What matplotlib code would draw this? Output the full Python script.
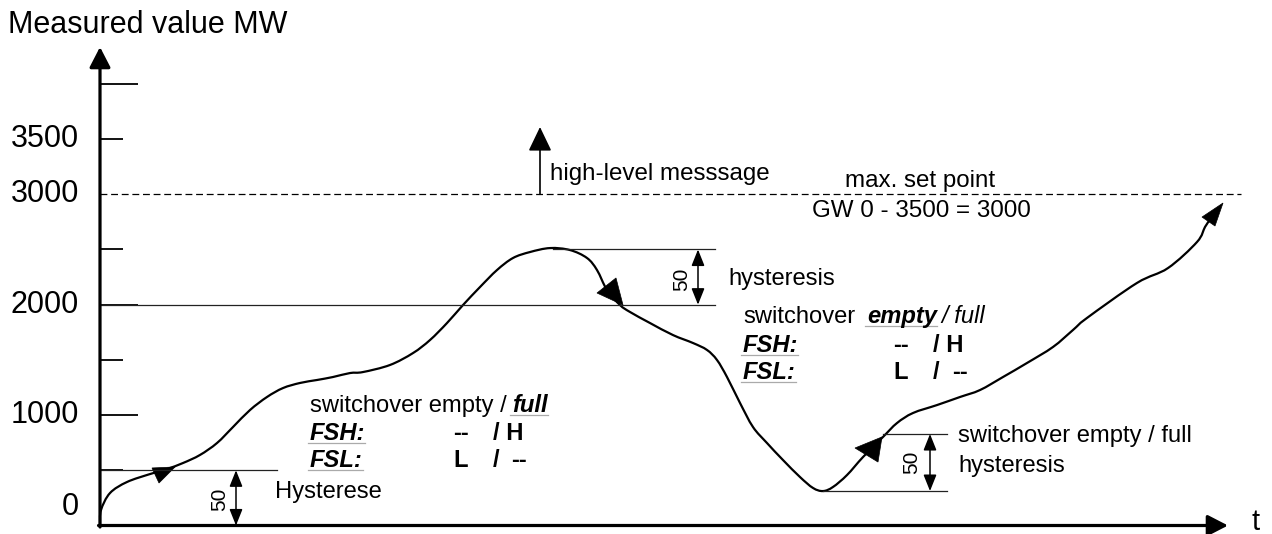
import matplotlib
matplotlib.use('Agg')
import matplotlib.pyplot as plt
from matplotlib.path import Path
from matplotlib.patches import PathPatch
import numpy as np

plt.rcParams['font.family'] = ['Liberation Sans', 'DejaVu Sans']

# ---------------- data ----------------
time = [0, 1, 10, 27, 50, 67, 83, 100, 117, 133, 150, 167, 183, 200, 217, 233, 250,
        263, 290, 313, 330, 347, 363, 380, 397, 413, 430, 450, 470, 487, 497, 507,
        520, 530, 550, 573, 593, 607, 617, 627, 640, 653, 667, 683, 700, 713, 723,
        733, 747, 763, 783, 797, 813, 837, 860, 880, 903, 927, 953, 973, 987, 1037,
        1068, 1097, 1105, 1110]
measured = [14, 140, 294, 394, 466, 512, 566, 639, 747, 892, 1046, 1164, 1245, 1291,
            1318, 1345, 1381, 1390, 1454, 1562, 1680, 1834, 1997, 2160, 2314, 2423,
            2477, 2513, 2495, 2423, 2314, 2133, 1997, 1934, 1834, 1725, 1653, 1590,
            1499, 1345, 1110, 892, 747, 593, 439, 340, 312, 349, 457, 620, 802, 928,
            1019, 1091, 1164, 1227, 1345, 1472, 1617, 1771, 1880, 2197, 2332, 2568,
            2704, 2770]

y_label_values = [0, 1000, 2000, 3000, 3500]
y_label_texts = ['0', '1000', '2000', '3000', '3500']
tick_values = [500, 1000, 1500, 2000, 2500, 3500, 4000]

max_set_point = 3000
switch_level = 2000
switch_top = 2500
low_level = 500
low_min = 312
low_top = 829

# arrowheads along the curve (time, value) triangles
head_start = ([52, 75, 59], [521, 530, 385])
head_fall = ([497, 516, 523], [2106, 2242, 1997])
head_rise = ([755, 782, 778], [702, 802, 575])
head_end = ([1102, 1123, 1115], [2794, 2921, 2713])

# ---------------- layout ----------------
UNIT = 3000 / 331.2           # value units per pixel (vertical)


def v(py):                    # pixel row -> value
    return (525.5 - py) * UNIT


def h(px):                    # pixel column -> time
    return px - 100


fig = plt.figure(figsize=(12.72, 5.34), dpi=100)
ax = fig.add_axes([0, 0, 1, 1])
ax.set_xlim(-100, 1172)
ax.set_ylim(v(534), v(0))
ax.axis('off')

BODY = 17.1
BIG = 22

# axes with arrows
axis_arrow = dict(arrowstyle='-|>,head_length=0.62,head_width=0.32', mutation_scale=20,
                  lw=2.3, color='black', shrinkA=0, shrinkB=0)
ax.annotate('', xy=(0, v(47)), xytext=(0, v(527)), arrowprops=axis_arrow)
ax.annotate('', xy=(h(1228), 0), xytext=(-1.5, 0), arrowprops=axis_arrow)

# ticks
for tv in tick_values:
    ln = 38 if tv % 1000 == 0 else 23
    ax.plot([0, ln], [tv, tv], color='black', lw=1.3, solid_capstyle='butt')

# tick labels
for val, txt in zip(y_label_values, y_label_texts):
    yy = v(507) if val == 0 else val
    ax.text(h(79), yy, txt, fontsize=BIG, ha='right', va='center')

ax.text(h(8), v(25), 'Measured value MW', fontsize=BIG, ha='left', va='center')
ax.text(h(1252), v(530), 't', fontsize=BIG - 1, ha='left', va='baseline')

# reference lines
thin = dict(color='#222222', lw=0.9)
ax.plot([0, h(1241)], [max_set_point, max_set_point], color='black', lw=0.9,
        linestyle=(0, (5.5, 3)))
ax.plot([0, h(715)], [switch_level, switch_level], **thin)
ax.plot([h(553), h(715)], [switch_top, switch_top], **thin)
ax.plot([0, h(277)], [low_level, low_level], **thin)
ax.plot([h(823), h(947)], [low_min, low_min], **thin)
ax.plot([h(883), h(947)], [low_top, low_top], **thin)

# double arrows (hysteresis)
dbl = dict(arrowstyle='<|-|>,head_length=0.55,head_width=0.22', mutation_scale=18,
           lw=1.1, color='black', shrinkA=0, shrinkB=0)
ax.annotate('', xy=(h(236), 0), xytext=(h(236), low_level), arrowprops=dbl)
ax.annotate('', xy=(h(698), switch_level), xytext=(h(698), switch_top), arrowprops=dbl)
ax.annotate('', xy=(h(930), low_min), xytext=(h(930), low_top), arrowprops=dbl)

ax.text(h(220), v(499), '50', fontsize=15, rotation=90, ha='center', va='center')
ax.text(h(682), v(279), '50', fontsize=15, rotation=90, ha='center', va='center')
ax.text(h(912), v(462), '50', fontsize=15, rotation=90, ha='center', va='center')

# high-level message arrow
hl = dict(arrowstyle='-|>,head_length=0.75,head_width=0.36', mutation_scale=20,
          lw=1.2, color='black', shrinkA=0, shrinkB=0)
ax.annotate('', xy=(h(540), v(127)), xytext=(h(540), max_set_point), arrowprops=hl)

# curve: smooth path through the read points (Catmull-Rom as cubic Bezier)
P = np.column_stack([time, measured]).astype(float)
verts = [P[0]]
codes = [Path.MOVETO]
n = len(P)
for i in range(n - 1):
    p0 = P[i - 1] if i > 0 else P[i]
    p1, p2 = P[i], P[i + 1]
    p3 = P[i + 2] if i + 2 < n else P[i + 1]
    c1 = p1 + (p2 - p0) / 6.0
    c2 = p2 - (p3 - p1) / 6.0
    verts += [c1, c2, p2]
    codes += [Path.CURVE4] * 3
ax.add_patch(PathPatch(Path(verts, codes), facecolor='none', edgecolor='black',
                       lw=1.6, joinstyle='round'))
for tri in (head_start, head_fall, head_rise, head_end):
    ax.fill(tri[0], tri[1], color='black', lw=0.5, edgecolor='black')

# texts
ax.text(h(550), v(180), 'high-level messsage', fontsize=BODY + 0.3, va='baseline')
ax.text(h(920), v(187), 'max. set point', fontsize=BODY + 0.3, va='baseline', ha='center')
ax.text(h(921), v(217), 'GW 0 - 3500 = 3000', fontsize=BODY + 0.3, va='baseline', ha='center')
ax.text(h(728), v(285), 'hysteresis', fontsize=BODY, va='baseline')
ax.text(h(275), v(498), 'Hysterese', fontsize=BODY, va='baseline')
ax.text(h(958), v(442), 'switchover empty / full', fontsize=BODY, va='baseline')
ax.text(h(958), v(472), 'hysteresis', fontsize=BODY, va='baseline')

underlined = []


def put(px, py, s, bold=False, italic=False, ul=False):
    t = ax.text(h(px), v(py), s, fontsize=BODY, va='baseline',
                fontweight='bold' if bold else 'normal',
                fontstyle='italic' if italic else 'normal')
    if ul:
        underlined.append((t, py))
    return t


# lower block
put(310, 412, 'switchover empty /')
put(512, 412, 'full', bold=True, italic=True, ul=True)
put(310, 440, 'FSH:', bold=True, italic=True, ul=True)
put(453, 440, '--', bold=True)
put(493, 440, '/ H', bold=True)
put(310, 467, 'FSL:', bold=True, italic=True, ul=True)
put(453, 467, 'L', bold=True)
put(493, 467, '/', bold=True)
put(511, 467, '--', bold=True)

# middle block
put(743, 323, 'switchover')
put(867, 323, 'empty', bold=True, italic=True, ul=True)
put(941, 323, '/ full', italic=True)
put(743, 352, 'FSH:', bold=True, italic=True, ul=True)
put(893, 352, '--', bold=True)
put(933, 352, '/ H', bold=True)
put(743, 379, 'FSL:', bold=True, italic=True, ul=True)
put(893, 379, 'L', bold=True)
put(933, 379, '/', bold=True)
put(952, 379, '--', bold=True)

fig.canvas.draw()
r = fig.canvas.get_renderer()
inv = ax.transData.inverted()
for t, py in underlined:
    bb = t.get_window_extent(r)
    x0, _ = inv.transform((bb.x0, 0))
    x1, _ = inv.transform((bb.x1, 0))
    ax.plot([x0 - 2, x1], [v(py + 3), v(py + 3)], color='#aaaaaa', lw=0.9)

fig.savefig('out.png', dpi=100)
